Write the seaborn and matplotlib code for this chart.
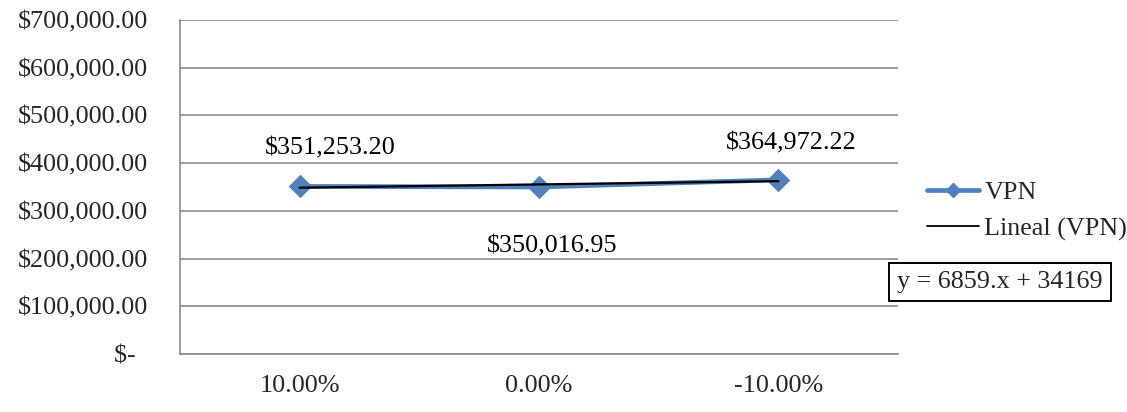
import numpy as np
import pandas as pd
import matplotlib
matplotlib.use("Agg")
import matplotlib.pyplot as plt
import seaborn as sns
from matplotlib.lines import Line2D
from matplotlib.ticker import FixedLocator

# Sensitivity scenarios and net present value (VPN)
scenarios = ["10.00%", "0.00%", "-10.00%"]
vpn = [351253.20, 350016.95, 364972.22]
value_labels = ["$351,253.20", "$350,016.95", "$364,972.22"]
label_offsets = [(31, 38), (13, -59), (13, 36)]  # (dx, dy) of each value label, in pixels
y_ticks = [0, 100000, 200000, 300000, 400000, 500000, 600000, 700000]
y_tick_labels = ["$-  ", "$100,000.00", "$200,000.00", "$300,000.00",
                 "$400,000.00", "$500,000.00", "$600,000.00", "$700,000.00"]

sns.set_style("white")
plt.rcParams["font.family"] = ["Liberation Serif", "DejaVu Serif"]

blue = "#4F81BD"
grid_grey = "#8A8A8A"
fs = 18.8

df = pd.DataFrame({"pos": np.arange(1, len(scenarios) + 1), "VPN": vpn})

fig = plt.figure(figsize=(11.27, 4.12), dpi=100)
ax = fig.add_axes([180 / 1127, 1 - 354 / 412, (898 - 180) / 1127, (354 - 20) / 412])

sns.lineplot(data=df, x="pos", y="VPN", ax=ax, color=blue, linewidth=3.4,
             marker="D", markersize=11, markeredgecolor=blue, zorder=3)
sns.regplot(data=df, x="pos", y="VPN", ax=ax, ci=None, scatter=False,
            line_kws={"color": "black", "linewidth": 1.6, "zorder": 4})

# linear trend coefficients for the equation box
slope, intercept = np.polyfit(df["pos"], df["VPN"], 1)

for x, y, lab, (dx, dy) in zip(df["pos"], vpn, value_labels, label_offsets):
    ax.annotate(lab, (x, y), xytext=(dx, dy), textcoords="offset pixels",
                ha="center", va="center", fontsize=fs, color="black")

ax.set_xlim(0.5, len(scenarios) + 0.5)
ax.set_ylim(0, 700000)
ax.set_yticks(y_ticks)
ax.set_yticklabels(y_tick_labels, fontsize=fs)
ax.set_xticks(df["pos"])
ax.set_xticklabels(scenarios, fontsize=fs)
ax.xaxis.set_minor_locator(FixedLocator(np.arange(0.5, len(scenarios) + 1, 1.0)))
ax.tick_params(axis="x", which="major", length=0, pad=15)
ax.tick_params(axis="x", which="minor", length=5.8, color=grid_grey, width=1.2, direction="out")
ax.tick_params(axis="y", length=5.8, color=grid_grey, width=1.2, direction="out", pad=17)
ax.set_xlabel("")
ax.set_ylabel("")

ax.grid(axis="y", color=grid_grey, linewidth=1.2)
ax.set_axisbelow(True)
for side in ["top", "right"]:
    ax.spines[side].set_visible(False)
for side in ["left", "bottom"]:
    ax.spines[side].set_color(grid_grey)
    ax.spines[side].set_linewidth(1.2)

handles = [
    Line2D([], [], color=blue, linewidth=3.4, marker="D", markersize=7),
    Line2D([], [], color="black", linewidth=1.3),
]
fig.legend(handles, ["VPN", "Lineal (VPN)"], loc="center left",
           bbox_to_anchor=(927 / 1127, 1 - 211 / 412), frameon=False,
           borderpad=0, borderaxespad=0,
           fontsize=fs, handlelength=2.0, handletextpad=0.2, labelspacing=0.5)

fig.text(1000 / 1127, 1 - 282 / 412,
         f"y = {int(slope)}.x + {int(intercept / 10)}",
         ha="center", va="center", fontsize=fs,
         bbox=dict(boxstyle="square,pad=0.3", facecolor="white",
                   edgecolor="black", linewidth=1.4))

fig.savefig("out.png", dpi=100)
